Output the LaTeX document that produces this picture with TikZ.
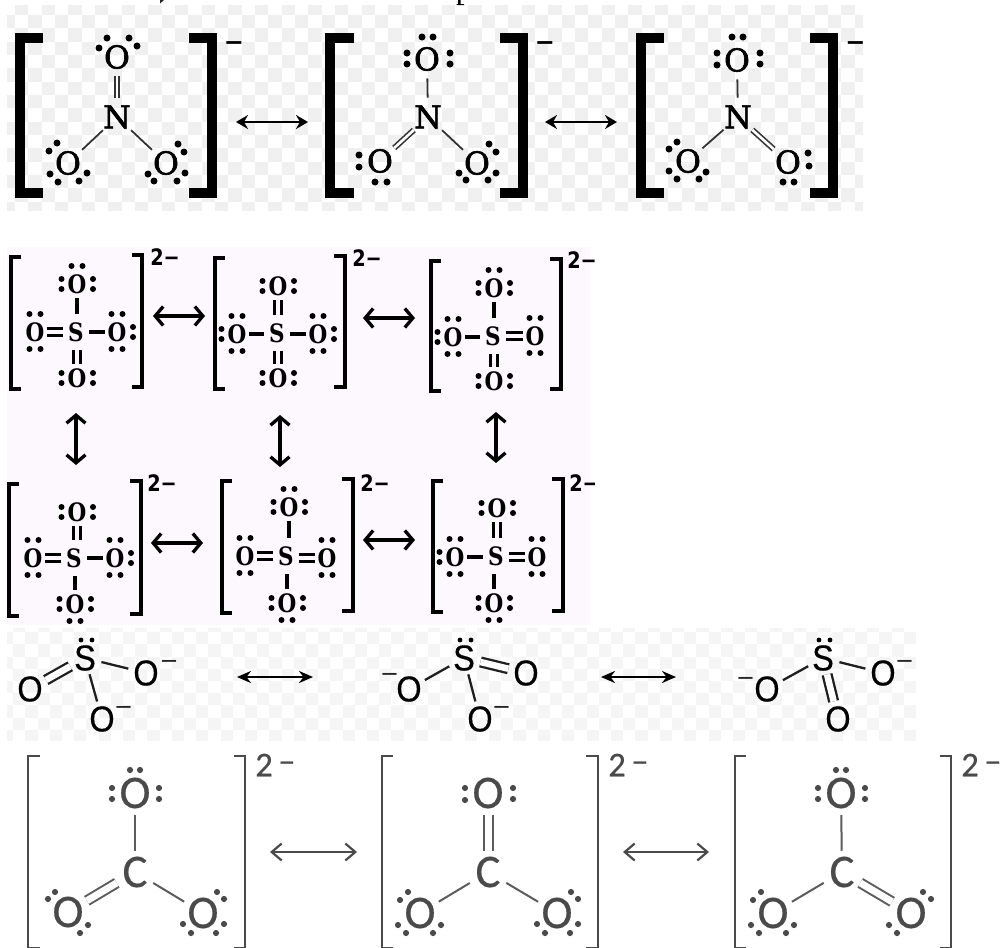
\documentclass[tikz,border=0pt]{standalone}
\usepackage{fontspec}
\usetikzlibrary{arrows.meta,calc}
\newfontfamily\nitf[FakeBold=2]{DejaVu Serif}
\newfontfamily\sulf[FakeStretch=0.85]{DejaVu Serif}
\newfontfamily\chgf{DejaVu Sans}
\newfontfamily\schf[FakeStretch=0.85]{DejaVu Sans}
\newfontfamily\sitf[FakeStretch=0.9,FakeBold=0.4]{Liberation Sans}
\newfontfamily\carf[FakeBold=0.4]{Carlito}
\newfontfamily\carc[FakeBold=0.4]{Carlito}
\definecolor{pinkbg}{HTML}{FDF8FE}
\definecolor{chk}{HTML}{F0F0F0}
\definecolor{chkb}{HTML}{F5F5F5}
\definecolor{cbgray}{HTML}{4A4A4A}
\def\px{0.75pt}
\newcommand\lpairs[2]{\foreach \dx/\dy in {#2}{\fill[lpdot] ([shift={(\dx,\dy)}]#1.center) circle[radius=\dotr];}}
\newcommand\lb[5]{\draw[brk,line width=#5*\px] ({#2},{#3+#5/2}) -- ({#1+#5/2},{#3+#5/2}) -- ({#1+#5/2},{#4-#5/2}) -- ({#2},{#4-#5/2});}
\newcommand\rb[5]{\draw[brk,line width=#5*\px] ({#1},{#3+#5/2}) -- ({#2-#5/2},{#3+#5/2}) -- ({#2-#5/2},{#4-#5/2}) -- ({#1},{#4-#5/2});}
% sulfate bonds: style, oxygen, sulfur
\newcommand\bT[3]{\draw[#1] (#2.south) -- (#2.south |- #3.north);}
\newcommand\bB[3]{\draw[#1] (#2.north) -- (#2.north |- #3.south);}
\newcommand\bL[3]{\draw[#1] (#2.east) -- (#2.east -| #3.west);}
\newcommand\bR[3]{\draw[#1] (#2.west) -- (#2.west -| #3.east);}
% sulfate lone pairs
\newcommand\sT[1]{\lpairs{#1}{-5.5/-18,5.5/-18}}
\newcommand\sB[1]{\lpairs{#1}{-5.5/17,5.5/17}}
\newcommand\sL[1]{\lpairs{#1}{-15.5/-5,-15.5/5}}
\newcommand\sR[1]{\lpairs{#1}{16/-5,16/5}}
% carbonate lone pairs
\newcommand\cR[1]{\lpairs{#1}{14/-21,21/-14,21/11,13/20,-12/20,-20/11}}
\newcommand\cL[1]{\lpairs{#1}{-12/-21,-20/-13,-22/12,-14/20,13/20,21/12}}
\tikzset{
  lpdot/.style={black},
  brk/.style={line cap=butt,line join=miter},
  % nitrate
  nO/.style={circle,inner sep=0pt,minimum size=38*\px,font=\nitf\fontsize{23.6}{24}\selectfont},
  nN/.style={nO,minimum size=38*\px},
  nsg/.style={line width=1.8*\px,draw=black!80},
  ndb/.style={line width=1.6*\px,draw=black!80,double=white,double distance=2.6*\px},
  narr/.style={line width=2.2*\px,{Stealth[length=12*\px,width=14*\px,inset=4*\px]}-{Stealth[length=12*\px,width=14*\px,inset=4*\px]}},
  nchg/.style={inner sep=0pt,font=\chgf\bfseries\fontsize{18}{18}\selectfont},
  % sulfate
  sO/.style={rectangle,inner sep=0pt,minimum width=24*\px,minimum height=28*\px,font=\sulf\bfseries\fontsize{19}{20}\selectfont},
  sS/.style={sO,minimum width=26*\px,minimum height=36*\px},
  ssg/.style={line width=3.6*\px},
  sdb/.style={line width=3*\px,double=pinkbg,double distance=4*\px},
  sarr/.style={line width=3.3*\px,{Straight Barb[length=8*\px,width=19*\px,line width=3.3*\px]}-{Straight Barb[length=8*\px,width=19*\px,line width=3.3*\px]}},
  schg/.style={inner sep=0pt,anchor=west,font=\schf\bfseries\fontsize{17}{17}\selectfont},
  % sulfite
  tO/.style={circle,inner sep=0pt,minimum size=32*\px,font=\sitf\fontsize{27}{28}\selectfont},
  tS/.style={tO,minimum size=30*\px},
  tsg/.style={line width=2.3*\px,draw=black!88},
  tdb/.style={line width=2.3*\px,draw=black!88,double=white,double distance=6.5*\px},
  tarr/.style={line width=2.6*\px,{Stealth[length=14*\px,width=12*\px]}-{Stealth[length=14*\px,width=12*\px]}},
  tchg/.style={inner sep=0pt,font=\chgf\fontsize{17}{17}\selectfont,black!85},
  % carbonate
  cO/.style={circle,inner sep=0pt,minimum size=43*\px,text=cbgray,font=\carf\fontsize{35}{36}\selectfont},
  cC/.style={cO,minimum size=42*\px},
  csg/.style={line width=2*\px,draw=cbgray!90},
  cdb/.style={line width=2*\px,draw=cbgray!90,double=white,double distance=7*\px},
  carr/.style={line width=2.2*\px,draw=cbgray,{Straight Barb[length=10*\px,width=17*\px,line width=2.2*\px]}-{Straight Barb[length=10*\px,width=17*\px,line width=2.2*\px]}},
  cchg/.style={inner sep=0pt,anchor=west,text=cbgray,font=\carc\fontsize{26}{27}\selectfont},
}
\begin{document}
\begin{tikzpicture}[x=0.75pt,y=-0.75pt]
\useasboundingbox (0,0) rectangle (1004,947);
\fill[white] (0,0) rectangle (1004,947);
% clipped text fragments at the top edge
\fill[black!85] (160,0) -- (164,0) -- (160,3.5) -- cycle;
\fill[black] (458,0) rectangle (460.5,4.5) (456.5,4) rectangle (464,5);
% ---------- checker backgrounds
\begin{scope}
\clip (7,5) rectangle (863,210);
\foreach \i in {0,...,64}{\foreach \j in {0,...,15}{
  \pgfmathtruncatemacro\pp{mod(\i+\j,2)}
  \ifnum\pp=1 \fill[chk] ({1.67+13.33*\i},{1.67+13.33*\j}) rectangle ({15+13.33*\i},{15+13.33*\j}); \fi
}}
\end{scope}
\fill[pinkbg] (7,247) rectangle (590,625);
\begin{scope}
\clip (7,628) rectangle (919,740);
\foreach \i in {0,...,74}{\foreach \j in {0,...,9}{
  \pgfmathtruncatemacro\pp{mod(\i+\j,2)}
  \ifnum\pp=1 \fill[chkb] ({1+12.2*\i},{620+12.2*\j}) rectangle ({13.2+12.2*\i},{632.2+12.2*\j}); \fi
}}
\end{scope}
% ---------- nitrate
\def\dotr{3.5}
\lb{14.5}{43}{33}{198}{10} \rb{189}{217}{33}{198}{10}
\lb{325}{354}{33}{198}{10} \rb{500}{528}{33}{198}{10}
\lb{636}{664}{33}{198}{10} \rb{810}{838}{33}{198}{10}
\node[nchg] (nq1) at (234,46) {−};
\node[nchg] (nq2) at (545,46) {−};
\node[nchg] (nq3) at (855.5,46) {−};
\node[nN] (a1n) at (117,117) {N};
\node[nO] (a1t) at (117,57) {O};
\node[nO] (a1l) at (68,163) {O};
\node[nO] (a1r) at (166,163) {O};
\draw[ndb] (a1t) -- (a1n);
\draw[nsg] (a1l) -- (a1n);
\draw[nsg] (a1r) -- (a1n);
\lpairs{a1t}{-10/-19,12/-19,-18/-9,20/-11}
\lpairs{a1l}{-11/-20,-19/-12,-18/11,-10/19,11/18,19/10}
\lpairs{a1r}{12/-19,18/-11,19/10,11/18,-12/18,-18/11}
\node[nN] (a2n) at (428,117) {N};
\node[nO] (a2t) at (427,59) {O};
\node[nO] (a2l) at (380,161) {O};
\node[nO] (a2r) at (477,163) {O};
\draw[nsg] (a2t) -- (a2n);
\draw[ndb] (a2l) -- (a2n);
\draw[nsg] (a2r) -- (a2n);
\lpairs{a2t}{-5/-22,6/-22,-20/-6,-20/5,23/-6,23/5}
\lpairs{a2l}{-21/-6,-21/6,-5/21,7/21}
\lpairs{a2r}{12/-19,19/-11,19/10,11/17,-11/17,-18/10}
\node[nN] (a3n) at (738,117) {N};
\node[nO] (a3t) at (737,60) {O};
\node[nO] (a3l) at (688,161) {O};
\node[nO] (a3r) at (788,162) {O};
\draw[nsg] (a3t) -- (a3n);
\draw[nsg] (a3l) -- (a3n);
\draw[ndb] (a3r) -- (a3n);
\lpairs{a3t}{-5/-23,6/-23,-20/-7,-20/5,23/-7,23/4}
\lpairs{a3l}{-11/-19,-19/-12,-19/10,-11/18,11/18,18/11}
\lpairs{a3r}{20/-9,21/4,-5/20,6/20}
\coordinate (na1) at (236,122); \coordinate (na2) at (308,122);
\coordinate (na3) at (545,122); \coordinate (na4) at (617,122);
\draw[narr] (na1) -- (na2);
\draw[narr] (na3) -- (na4);
% ---------- sulfate
\def\dotr{3}
% A
\lb{9}{21}{255}{391}{3.6} \rb{132}{144}{253}{389}{3.6}
\node[schg] (sqa) at (150,257) {2−};
\node[sS] (sAs) at (76,332) {S};
\node[sO] (sAt) at (77,284) {O};
\node[sO] (sAb) at (77,378) {O};
\node[sO] (sAl) at (35,332) {O};
\node[sO] (sAr) at (117,332) {O};
\bT{ssg}{sAt}{sAs}
\bB{sdb}{sAb}{sAs}
\bL{sdb}{sAl}{sAs}
\bR{ssg}{sAr}{sAs}
\sT{sAt}\sL{sAt}\sR{sAt}
\sL{sAb}\sR{sAb}
\sT{sAl}\sB{sAl}
\sT{sAr}\sB{sAr}\sR{sAr}
% B
\lb{213}{225}{256}{391}{3.6} \rb{334}{347}{254}{389}{3.6}
\node[schg] (sqb) at (352,258) {2−};
\node[sS] (sBs) at (277,333) {S};
\node[sO] (sBt) at (278,286) {O};
\node[sO] (sBb) at (278,378) {O};
\node[sO] (sBl) at (237,334) {O};
\node[sO] (sBr) at (318,334) {O};
\bT{sdb}{sBt}{sBs}
\bB{sdb}{sBb}{sBs}
\bL{ssg}{sBl}{sBs}
\bR{ssg}{sBr}{sBs}
\sL{sBt}\sR{sBt}
\sL{sBb}\sR{sBb}
\sT{sBl}\sB{sBl}\sL{sBl}
\sT{sBr}\sB{sBr}\sR{sBr}
% C
\lb{429}{441}{259}{393}{3.6} \rb{550}{563}{257}{391}{3.6}
\node[schg] (sqc) at (567,260) {2−};
\node[sS] (sCs) at (493,336) {S};
\node[sO] (sCt) at (494,288) {O};
\node[sO] (sCb) at (494,381) {O};
\node[sO] (sCl) at (453,337) {O};
\node[sO] (sCr) at (535,336) {O};
\bT{ssg}{sCt}{sCs}
\bB{sdb}{sCb}{sCs}
\bL{ssg}{sCl}{sCs}
\bR{sdb}{sCr}{sCs}
\sT{sCt}\sL{sCt}\sR{sCt}
\sL{sCb}\sR{sCb}
\sT{sCl}\sB{sCl}\sL{sCl}
\sT{sCr}\sB{sCr}
% D
\lb{7}{19}{482}{618}{3.6} \rb{130}{143}{479}{616}{3.6}
\node[schg] (sqd) at (147,483) {2−};
\node[sS] (sDs) at (74,558) {S};
\node[sO] (sDt) at (77,512) {O};
\node[sO] (sDb) at (75,604) {O};
\node[sO] (sDl) at (33,558) {O};
\node[sO] (sDr) at (115,558) {O};
\bT{sdb}{sDt}{sDs}
\bB{ssg}{sDb}{sDs}
\bL{sdb}{sDl}{sDs}
\bR{ssg}{sDr}{sDs}
\sL{sDt}\sR{sDt}
\sB{sDb}\sL{sDb}\sR{sDb}
\sT{sDl}\sB{sDl}
\sT{sDr}\sB{sDr}\sR{sDr}
% E
\lb{220}{232}{479}{615}{3.6} \rb{342}{355}{477}{613}{3.6}
\node[schg] (sqe) at (360,483) {2−};
\node[sS] (sEs) at (286,556) {S};
\node[sO] (sEt) at (289,507) {O};
\node[sO] (sEb) at (287,603) {O};
\node[sO] (sEl) at (245,556) {O};
\node[sO] (sEr) at (327,558) {O};
\bT{ssg}{sEt}{sEs}
\bB{ssg}{sEb}{sEs}
\bL{sdb}{sEl}{sEs}
\bR{sdb}{sEr}{sEs}
\sT{sEt}\sL{sEt}\sR{sEt}
\sB{sEb}\sL{sEb}\sR{sEb}
\sT{sEl}\sB{sEl}
\sT{sEr}\sB{sEr}
% F
\lb{431}{443}{479}{614}{3.6} \rb{552}{565}{477}{613}{3.6}
\node[schg] (sqf) at (569,483) {2−};
\node[sS] (sFs) at (496,556) {S};
\node[sO] (sFt) at (497,508) {O};
\node[sO] (sFb) at (494,603) {O};
\node[sO] (sFl) at (455,557) {O};
\node[sO] (sFr) at (537,557) {O};
\bT{sdb}{sFt}{sFs}
\bB{ssg}{sFb}{sFs}
\bL{ssg}{sFl}{sFs}
\bR{sdb}{sFr}{sFs}
\sL{sFt}\sR{sFt}
\sB{sFb}\sL{sFb}\sR{sFb}
\sT{sFl}\sB{sFl}\sL{sFl}
\sT{sFr}\sB{sFr}
% white cut at the pink band's right edge
\fill[white] (595,250) rectangle (625,500);
% sulfate arrows
\coordinate (h1) at (153,316); \coordinate (h2) at (205,316);
\coordinate (h3) at (363,318); \coordinate (h4) at (415,318);
\coordinate (h5) at (151,543); \coordinate (h6) at (203,543);
\coordinate (h7) at (363,540); \coordinate (h8) at (415,540);
\coordinate (v1) at (76,413); \coordinate (v2) at (76,465);
\coordinate (v3) at (280,415); \coordinate (v4) at (280,467);
\coordinate (v5) at (496,412); \coordinate (v6) at (496,463);
\foreach \p/\q in {h1/h2,h3/h4,h5/h6,h7/h8,v1/v2,v3/v4,v5/v6}{\draw[sarr] (\p) -- (\q);}
% ---------- sulfite
\def\dotr{2.4}
\node[tS] (t1s) at (85,658) {S};
\node[tO] (t1l) at (30,689) {O};
\node[tO] (t1r) at (146,673) {O};
\node[tO] (t1b) at (102,719) {O};
\draw[tdb] (t1l) -- (t1s);
\draw[tsg] (t1r) -- (t1s);
\draw[tsg] (t1b) -- (t1s);
\lpairs{t1s}{-4/-18,7/-18}
\node[tchg] (t1q) at (169,664) {−};
\node[tchg] (t1p) at (123.5,710) {−};
\node[tS] (t2s) at (464,658) {S};
\node[tO] (t2l) at (409,689) {O};
\node[tO] (t2r) at (526,673) {O};
\node[tO] (t2b) at (480,719) {O};
\draw[tsg] (t2l) -- (t2s);
\draw[tdb] (t2r) -- (t2s);
\draw[tsg] (t2b) -- (t2s);
\lpairs{t2s}{-4/-18,7/-18}
\node[tchg] (t2q) at (389.5,677) {−};
\node[tchg] (t2p) at (501.5,710) {−};
\node[tS] (t3s) at (823,658) {S};
\node[tO] (t3l) at (767,689) {O};
\node[tO] (t3r) at (883,673) {O};
\node[tO] (t3b) at (838,719) {O};
\draw[tsg] (t3l) -- (t3s);
\draw[tsg] (t3r) -- (t3s);
\draw[tdb] (t3b) -- (t3s);
\lpairs{t3s}{-4/-18,7/-18}
\node[tchg] (t3q) at (745.5,681) {−};
\node[tchg] (t3p) at (904.5,664) {−};
\coordinate (ta1) at (237,677); \coordinate (ta2) at (313,677);
\coordinate (ta3) at (601,677); \coordinate (ta4) at (676,677);
\draw[tarr] (ta1) -- (ta2);
\draw[tarr] (ta3) -- (ta4);
% ---------- carbonate
\def\dotr{3.1}
\tikzset{lpdot/.style={cbgray}}
\tikzset{brk/.append style={draw=cbgray}}
\lb{27}{40}{755}{949}{2.2} \rb{234}{246}{755}{949}{2.2}
\lb{381}{393}{755}{949}{2.2} \rb{586}{599}{755}{949}{2.2}
\lb{734}{746}{755}{949}{2.2} \rb{940}{952}{755}{949}{2.2}
\node[cchg] (cq1) at (255,765) {2\kern4pt\raisebox{3pt}{–}};
\node[cchg] (cq2) at (608,765) {2\kern4pt\raisebox{3pt}{–}};
\node[cchg] (cq3) at (961,765) {2\kern4pt\raisebox{3pt}{–}};
\node[cC] (c1c) at (135,872) {C};
\node[cO] (c1t) at (135,793) {O};
\node[cO] (c1l) at (68,912) {O};
\node[cO] (c1r) at (203,913) {O};
\draw[csg] (c1t) -- (c1c);
\draw[cdb] (c1l) -- (c1c);
\draw[csg] (c1r) -- (c1c);
\lpairs{c1t}{-5/-23,5/-23,-23/-5,-23/6,24/-5,24/6}
\lpairs{c1l}{-13/-20,-20/-13,20/13,12/21}
\cR{c1r}
\node[cC] (c2c) at (488,872) {C};
\node[cO] (c2t) at (488,793) {O};
\node[cO] (c2l) at (420,913) {O};
\node[cO] (c2r) at (557,913) {O};
\draw[cdb] (c2t) -- (c2c);
\draw[csg] (c2l) -- (c2c);
\draw[csg] (c2r) -- (c2c);
\lpairs{c2t}{-23/-5,-23/7,25/-5,25/6}
\cL{c2l}
\cR{c2r}
\node[cC] (c3c) at (842,872) {C};
\node[cO] (c3t) at (841,793) {O};
\node[cO] (c3l) at (773,913) {O};
\node[cO] (c3r) at (911,913) {O};
\draw[csg] (c3t) -- (c3c);
\draw[csg] (c3l) -- (c3c);
\draw[cdb] (c3r) -- (c3c);
\lpairs{c3t}{-5/-23,5/-23,-23/-5,-23/6,24/-5,24/6}
\cL{c3l}
\lpairs{c3r}{12/-21,20/-14,-14/20,-22/12}
\coordinate (ca1) at (270,852); \coordinate (ca2) at (357,852);
\coordinate (ca3) at (623,852); \coordinate (ca4) at (709,852);
\draw[carr] (ca1) -- (ca2);
\draw[carr] (ca3) -- (ca4);
\end{tikzpicture}
\end{document}
